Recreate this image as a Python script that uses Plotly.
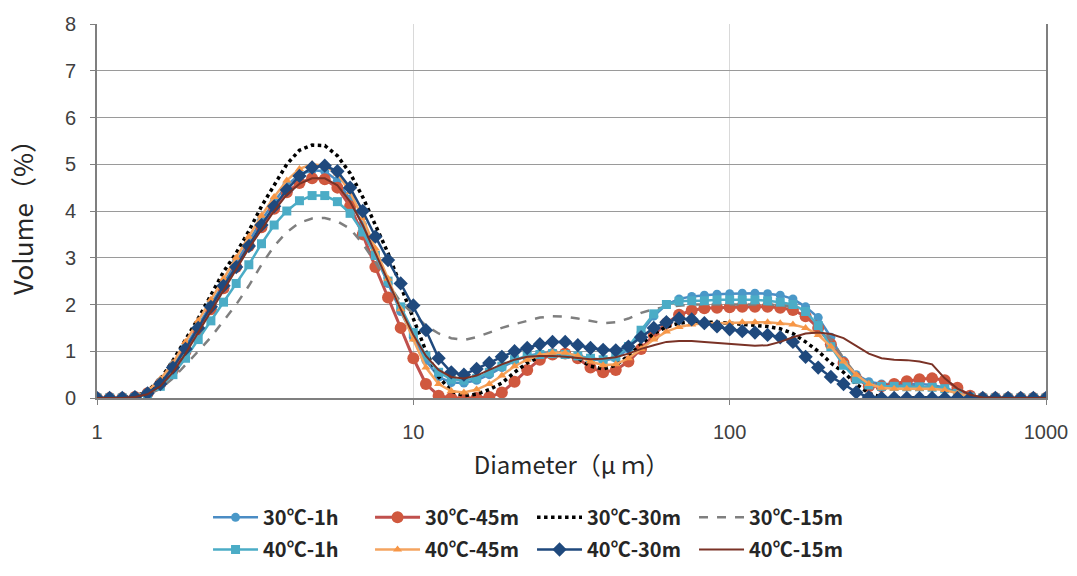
import plotly.graph_objects as go

# Particle diameter bins (µm), log spaced (25 per decade)
diameter = [
    1.000, 1.096, 1.202, 1.318, 1.445, 1.585, 1.738, 1.905, 2.089, 2.291,
    2.512, 2.754, 3.020, 3.311, 3.631, 3.981, 4.365, 4.786, 5.248, 5.754,
    6.310, 6.918, 7.586, 8.318, 9.120,
    10.00, 10.96, 12.02, 13.18, 14.45, 15.85, 17.38, 19.05, 20.89, 22.91,
    25.12, 27.54, 30.20, 33.11, 36.31, 39.81, 43.65, 47.86, 52.48, 57.54,
    63.10, 69.18, 75.86, 83.18, 91.20,
    100.0, 109.6, 120.2, 131.8, 144.5, 158.5, 173.8, 190.5, 208.9, 229.1,
    251.2, 275.4, 302.0, 331.1, 363.1, 398.1, 436.5, 478.6, 524.8, 575.4,
    631.0, 691.8, 758.6, 831.8, 912.0, 1000.0,
]

v_30_1h = [
    0, 0, 0,
    0.02, 0.12, 0.35, 0.7, 1.1, 1.55, 2.0,
    2.45, 2.9, 3.35, 3.8, 4.2, 4.55, 4.78, 4.87, 4.85, 4.65,
    4.25, 3.7, 3.05, 2.45, 1.85, 1.3, 0.8, 0.45, 0.33, 0.32,
    0.38, 0.5, 0.65, 0.8, 0.9, 0.95, 0.97, 0.95, 0.9, 0.83,
    0.8, 0.85, 1.05, 1.4, 1.75, 2.0, 2.12, 2.17, 2.2, 2.22,
    2.23, 2.24, 2.24, 2.23, 2.2, 2.12, 1.95, 1.72, 1.3, 0.8,
    0.5, 0.35, 0.3, 0.3, 0.3, 0.3, 0.28, 0.22, 0.12, 0.03,
    0, 0, 0, 0, 0, 0,
]
v_30_45m = [
    0, 0, 0,
    0.02, 0.1, 0.3, 0.6, 1.0, 1.45, 1.9,
    2.35, 2.8, 3.25, 3.65, 4.05, 4.4, 4.6, 4.7, 4.68, 4.5,
    4.1, 3.5, 2.8, 2.15, 1.5, 0.85, 0.3, 0.05, 0, 0,
    0, 0.02, 0.12, 0.35, 0.6, 0.82, 0.93, 0.95, 0.85, 0.65,
    0.55, 0.6, 0.78, 1.05, 1.35, 1.6, 1.78, 1.87, 1.92, 1.93,
    1.94, 1.95, 1.95, 1.95, 1.93, 1.88, 1.75, 1.5, 1.15, 0.75,
    0.42, 0.25, 0.25, 0.3, 0.36, 0.4, 0.42, 0.38, 0.22, 0.05,
    0, 0, 0, 0, 0, 0,
]
v_30_30m = [
    0, 0, 0,
    0.03, 0.15, 0.4, 0.8, 1.25, 1.7, 2.2,
    2.7, 3.1, 3.57, 4.1, 4.55, 5.0, 5.3, 5.41, 5.4, 5.18,
    4.81, 4.3, 3.7, 3.1, 2.4, 1.7, 1.0, 0.45, 0.15, 0.05,
    0.08, 0.18, 0.32, 0.55, 0.75, 0.88, 0.95, 0.95, 0.85, 0.68,
    0.62, 0.7, 0.9, 1.15, 1.38, 1.52, 1.6, 1.63, 1.63, 1.62,
    1.6, 1.58, 1.56, 1.53, 1.48, 1.38, 1.2, 1.0, 0.75, 0.55,
    0.3, 0.1, 0.02, 0, 0, 0, 0, 0, 0, 0,
    0, 0, 0, 0, 0, 0,
]
v_30_15m = [
    0, 0, 0,
    0.01, 0.07, 0.2, 0.42, 0.7, 1.0, 1.3,
    1.65, 2.0, 2.4, 2.85, 3.25, 3.55, 3.75, 3.84, 3.85, 3.78,
    3.62, 3.3, 2.9, 2.45, 2.05, 1.8, 1.55, 1.38, 1.28, 1.24,
    1.3, 1.4, 1.5, 1.58, 1.65, 1.72, 1.75, 1.74, 1.7, 1.65,
    1.6, 1.62, 1.7, 1.82, 1.9, 1.95, 1.98, 2.0, 2.0, 2.0,
    2.0, 2.0, 2.0, 2.0, 1.98, 1.95, 1.85, 1.6, 1.25, 0.85,
    0.5, 0.3, 0.25, 0.25, 0.25, 0.25, 0.25, 0.2, 0.1, 0.02,
    0, 0, 0, 0, 0, 0,
]
v_40_1h = [
    0, 0, 0,
    0.01, 0.08, 0.25, 0.5, 0.85, 1.25, 1.65,
    2.05, 2.45, 2.85, 3.3, 3.7, 4.0, 4.22, 4.33, 4.33, 4.2,
    3.95, 3.55, 3.05, 2.5, 1.95, 1.4, 0.9, 0.55, 0.4, 0.38,
    0.42, 0.55, 0.68, 0.82, 0.9, 0.93, 0.95, 0.93, 0.9, 0.85,
    0.82, 0.88, 1.1, 1.45, 1.8, 2.0, 2.07, 2.08, 2.08, 2.1,
    2.1, 2.1, 2.1, 2.08, 2.05, 2.0, 1.85, 1.55, 1.1, 0.7,
    0.4, 0.28, 0.25, 0.25, 0.24, 0.24, 0.23, 0.2, 0.1, 0.02,
    0, 0, 0, 0, 0, 0,
]
v_40_45m = [
    0, 0, 0,
    0.03, 0.15, 0.4, 0.75, 1.2, 1.65, 2.1,
    2.55, 3.0, 3.45, 3.9, 4.3, 4.65, 4.9, 5.0, 4.97, 4.8,
    4.4, 3.85, 3.2, 2.55, 1.9, 1.25, 0.65, 0.3, 0.15, 0.12,
    0.18, 0.3, 0.48, 0.68, 0.82, 0.92, 0.97, 0.97, 0.9, 0.78,
    0.7, 0.72, 0.85, 1.05, 1.25, 1.42, 1.52, 1.57, 1.6, 1.6,
    1.61, 1.62, 1.62, 1.62, 1.6, 1.57, 1.5, 1.35, 1.1, 0.78,
    0.5, 0.3, 0.22, 0.2, 0.2, 0.2, 0.2, 0.17, 0.1, 0.03,
    0, 0, 0, 0, 0, 0,
]
v_40_30m = [
    0, 0, 0,
    0.02, 0.1, 0.3, 0.65, 1.05, 1.5, 1.95,
    2.4, 2.8, 3.25, 3.7, 4.1, 4.45, 4.75, 4.93, 4.97, 4.85,
    4.5, 4.0, 3.45, 2.95, 2.45, 1.98, 1.45, 0.85, 0.55, 0.5,
    0.62, 0.75, 0.88, 1.0, 1.07, 1.15, 1.2, 1.2, 1.13, 1.07,
    1.03, 1.02, 1.1, 1.3, 1.5, 1.62, 1.7, 1.68, 1.6, 1.53,
    1.47, 1.43, 1.4, 1.35, 1.3, 1.2, 0.88, 0.65, 0.45, 0.3,
    0.12, 0.02, 0, 0, 0, 0, 0, 0, 0, 0,
    0, 0, 0, 0, 0, 0,
]
v_40_15m = [
    0, 0, 0,
    0.02, 0.08, 0.25, 0.55, 0.95, 1.4, 1.85,
    2.3, 2.75, 3.2, 3.6, 4.0, 4.35, 4.58, 4.7, 4.7, 4.55,
    4.2, 3.7, 3.1, 2.5, 1.9, 1.35, 0.9, 0.6, 0.45, 0.42,
    0.48, 0.6, 0.72, 0.82, 0.88, 0.9, 0.9, 0.88, 0.85, 0.83,
    0.84, 0.87, 0.95, 1.05, 1.13, 1.2, 1.22, 1.22, 1.2, 1.18,
    1.15, 1.13, 1.12, 1.13, 1.2, 1.3, 1.38, 1.4, 1.37, 1.28,
    1.12, 0.95, 0.85, 0.82, 0.81, 0.78, 0.72, 0.42, 0.2, 0.07,
    0.01, 0, 0, 0, 0, 0,
]

series_names = ["30℃-1h", "30℃-45m", "30℃-30m", "30℃-15m",
                "40℃-1h", "40℃-45m", "40℃-30m", "40℃-15m"]
x_ticks = [1, 10, 100, 1000]
x_tick_labels = ["1", "10", "100", "1000"]
y_ticks = [0, 1, 2, 3, 4, 5, 6, 7, 8]

styles = [
    dict(mode="lines+markers", line=dict(color="#4A8CC4", width=2.5),
         marker=dict(symbol="circle", size=9, color="#4A98C8")),
    dict(mode="lines+markers", line=dict(color="#C0504D", width=3),
         marker=dict(symbol="circle", size=12, color="#D0583E")),
    dict(mode="lines", line=dict(color="#000000", width=3.5, dash="dot")),
    dict(mode="lines", line=dict(color="#7F7F7F", width=2.5, dash="dash")),
    dict(mode="lines+markers", line=dict(color="#4BACC6", width=2.5),
         marker=dict(symbol="square", size=9, color="#4BACC6")),
    dict(mode="lines+markers", line=dict(color="#F4A460", width=2.5),
         marker=dict(symbol="triangle-up", size=8, color="#F79646")),
    dict(mode="lines+markers", line=dict(color="#1F497D", width=2.5),
         marker=dict(symbol="diamond", size=11, color="#1F497D")),
    dict(mode="lines", line=dict(color="#7A3226", width=2)),
]
values = [v_30_1h, v_30_45m, v_30_30m, v_30_15m,
          v_40_1h, v_40_45m, v_40_30m, v_40_15m]
legend_ids = ["legend"] * 4 + ["legend2"] * 4

fig = go.Figure()
for name, vals, st, lg in zip(series_names, values, styles, legend_ids):
    fig.add_trace(go.Scatter(x=diameter, y=vals, name=name, legend=lg, **st))

legend_common = dict(
    orientation="h", xanchor="left", yanchor="top",
    entrywidth=102, entrywidthmode="pixels", itemwidth=45,
    font=dict(family="Noto Sans CJK JP", size=20, color="#262626", weight="bold"),
    bgcolor="rgba(0,0,0,0)",
)
fig.update_layout(
    width=1077, height=576,
    margin=dict(l=97, r=31, t=24, b=178, autoexpand=False),
    paper_bgcolor="white", plot_bgcolor="white",
    font=dict(family="Liberation Sans, Arial, sans-serif", color="#404040"),
    showlegend=True,
    legend=dict(x=0.117, y=-0.267, **legend_common),
    legend2=dict(x=0.117, y=-0.353, **legend_common),
)
fig.update_xaxes(
    type="log", range=[0, 3],
    tickvals=x_ticks, ticktext=x_tick_labels,
    tickfont=dict(size=20, color="#404040"),
    showgrid=True, gridcolor="#D9D9D9", gridwidth=1,
    showline=True, linecolor="#7F7F7F", linewidth=2, mirror=False,
    ticks="outside", ticklen=5, tickcolor="#7F7F7F",
    ticklabelstandoff=10,
    zeroline=False,
    title=dict(text="Diameter（μ ｍ）", standoff=15,
               font=dict(family="Noto Sans CJK JP", size=24, color="#262626")),
)
fig.update_yaxes(
    range=[0, 8], tickvals=y_ticks,
    tickfont=dict(size=20, color="#404040"),
    showgrid=True, gridcolor="#9A9A9A", gridwidth=1,
    showline=True, linecolor="#7F7F7F", linewidth=2, mirror=True,
    ticks="outside", ticklen=5, tickcolor="#7F7F7F",
    ticklabelstandoff=10,
    zeroline=False,
    title=dict(text="Volume（%）", standoff=24,
               font=dict(family="Noto Sans CJK JP", size=26, color="#262626")),
)

fig.write_html("out.html")
